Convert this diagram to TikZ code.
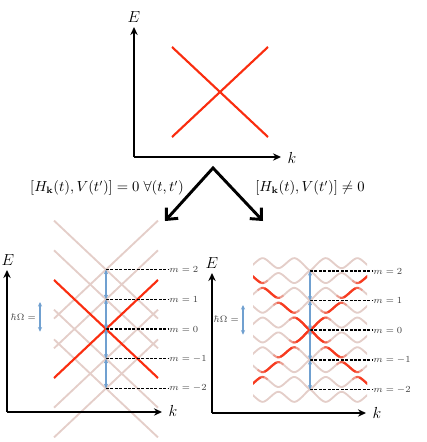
\documentclass[tikz,border=0pt]{standalone}
\usetikzlibrary{arrows.meta}

\definecolor{bandred}{RGB}{250,45,15}
\definecolor{ghost}{RGB}{228,206,201}
\definecolor{hblue}{RGB}{112,160,208}

\begin{document}
\begin{tikzpicture}[x=0.75pt,y=0.75pt,yscale=-1,xscale=1,
  axis/.style={line width=1.4pt,-{Stealth[length=6pt,width=5.5pt]}},
  bigarrow/.style={line width=2.2pt,line join=miter,{Straight Barb[length=6.5pt,width=12pt]}-{Straight Barb[length=6.5pt,width=12pt]}},
  redline/.style={line width=1.6pt,color=bandred},
  ghostline/.style={line width=1.4pt,color=ghost},
  level/.style={dash pattern=on 2.2pt off 1.1pt,line width=0.8pt},
  quantum/.style={hblue,line width=0.9pt,{Stealth[length=3.5pt,width=3.2pt]}-{Stealth[length=3.5pt,width=3.2pt]}},
  axlabel/.style={inner sep=0.75pt,font=\fontsize{12}{14}\selectfont},
  mlabel/.style={anchor=west,inner sep=0.75pt,font=\fontsize{7.5}{9}\selectfont,text=black!75},
  hlabel/.style={anchor=east,inner sep=0.75pt,font=\fontsize{7}{8}\selectfont,text=black!75},
  declare function={
    hw(\uu)=exp(-min((\uu/7)*(\uu/7),15));
    amp(\uu)=5+2.425*hw(\uu);
    rr(\uu)=0.72+0.2799*hw(\uu);
    band(\uu,\jj)=(\jj-0.5)*14.85+amp(\uu)*asin(rr(\uu)*cos(180*(\uu/15.8-\jj)))/asin(rr(\uu));
  }]
\useasboundingbox (0,0) rectangle (426,442);

%Shape: Axis 2D (top)
\coordinate (o1) at (134,157);
\coordinate (e1) at (134,27);
\coordinate (k1) at (281,157);
\draw[axis] (o1) -- (e1);
\draw[axis] (o1) -- (k1);
%Straight Lines (Dirac cone)
\draw[redline] (172,47) -- (268,137);
\draw[redline] (172,137) -- (268,47);

%Straight Lines (branches)
\coordinate (apex) at (213,168);
\coordinate (lefttip) at (165,221);
\coordinate (righttip) at (263,221);
\draw[bigarrow] (lefttip) -- (apex) -- (righttip);

%Shape: Axis 2D (bottom left)
\coordinate (o2) at (7,412);
\coordinate (e2) at (7,270);
\coordinate (k2) at (162,412);
%Straight Lines (Floquet copies)
\foreach \m in {-2,-1,1,2}{
  \draw[ghostline] (54,{329-\m*29.7-49}) -- (158,{329-\m*29.7+49});
  \draw[ghostline] (54,{329-\m*29.7+49}) -- (158,{329-\m*29.7-49});
}
\draw[redline] (54,280) -- (158,378);
\draw[redline] (54,378) -- (158,280);
\draw[axis] (o2) -- (e2);
\draw[axis] (o2) -- (k2);

%Shape: Axis 2D (bottom right)
\coordinate (o3) at (212,413);
\coordinate (e3) at (212,273);
\coordinate (k3) at (366,413);
%Curve Lines (quasienergy bands)
\begin{scope}
\clip (253,240) rectangle (367,420);
\foreach \b in {-4,...,5}
  \draw[ghostline] plot[domain=-58:58,samples=140,smooth] ({310+\x},{330-band(\x,\b)});
\foreach \n [evaluate=\n as \su using int(\n+1), evaluate=\n as \sd using int(-\n),
             evaluate=\n as \ua using \n*15.8, evaluate=\n as \ub using (\n+1)*15.8] in {-4,...,3}{
  \foreach \b in {\su,\sd}{
    \draw[redline,opacity=0.3] plot[domain={\ua-5}:{\ub+5},samples=36,smooth] ({310+\x},{330-band(\x,\b)});
    \draw[redline,opacity=0.5] plot[domain={\ua-1.5}:{\ub+1.5},samples=30,smooth] ({310+\x},{330-band(\x,\b)});
    \draw[redline,opacity=0.75] plot[domain={\ua+2}:{\ub-2},samples=24,smooth] ({310+\x},{330-band(\x,\b)});
  }
}
\end{scope}
\draw[axis] (o3) -- (e3);
\draw[axis] (o3) -- (k3);

%Straight Lines (levels, left)
\foreach \m/\y in {2/269.6,1/299.3,0/329,-1/358.7,-2/388.4}{
  \coordinate (l\m) at (106,\y);
  \node[mlabel] (ml\m) at (168,\y) {$m=\m$};
  \draw[level] (l\m) -- (ml\m.west);
}
\foreach \a/\b in {2/1,1/0,0/-1,-1/-2}
  \draw[quantum] (l\a) -- (l\b);
%Straight Lines (levels, right)
\foreach \m/\y in {2/271,1/300.7,0/330,-1/360,-2/389.7}{
  \coordinate (r\m) at (310,\y);
  \node[mlabel] (mr\m) at (372,\y) {$m=\m$};
  \draw[level] (r\m) -- (mr\m.west);
}
\foreach \a/\b in {2/1,1/0,0/-1,-1/-2}
  \draw[quantum] (r\a) -- (r\b);

%Straight Lines (h Omega)
\coordinate (hl1) at (40,302);
\coordinate (hl2) at (40,331.7);
\draw[quantum] (hl1) -- (hl2);
\coordinate (hr1) at (243,305);
\coordinate (hr2) at (243,334.7);
\draw[quantum] (hr1) -- (hr2);

% Text Node
\node[hlabel] (hbl) at (37,317) {$\hbar\Omega =$};
\node[hlabel] (hbr) at (240,319) {$\hbar\Omega =$};
% Text Node
\node[axlabel] (E1) at (134,17) {$E$};
\node[axlabel] (K1) at (292,158) {$k$};
\node[axlabel] (E2) at (8,260) {$E$};
\node[axlabel] (K2) at (173,411) {$k$};
\node[axlabel] (E3) at (212,263) {$E$};
\node[axlabel] (K3) at (377,413) {$k$};
% Text Node
\node[inner sep=0.75pt,font=\fontsize{10.5}{12}\selectfont] (comm) at (107,188) {$[H_{\mathbf{k}}(t),V(t')]=0\;\forall(t,t')$};
\node[inner sep=0.75pt,font=\fontsize{10.5}{12}\selectfont] (noncomm) at (310,188) {$[H_{\mathbf{k}}(t),V(t')]\neq 0$};

\end{tikzpicture}
\end{document}
